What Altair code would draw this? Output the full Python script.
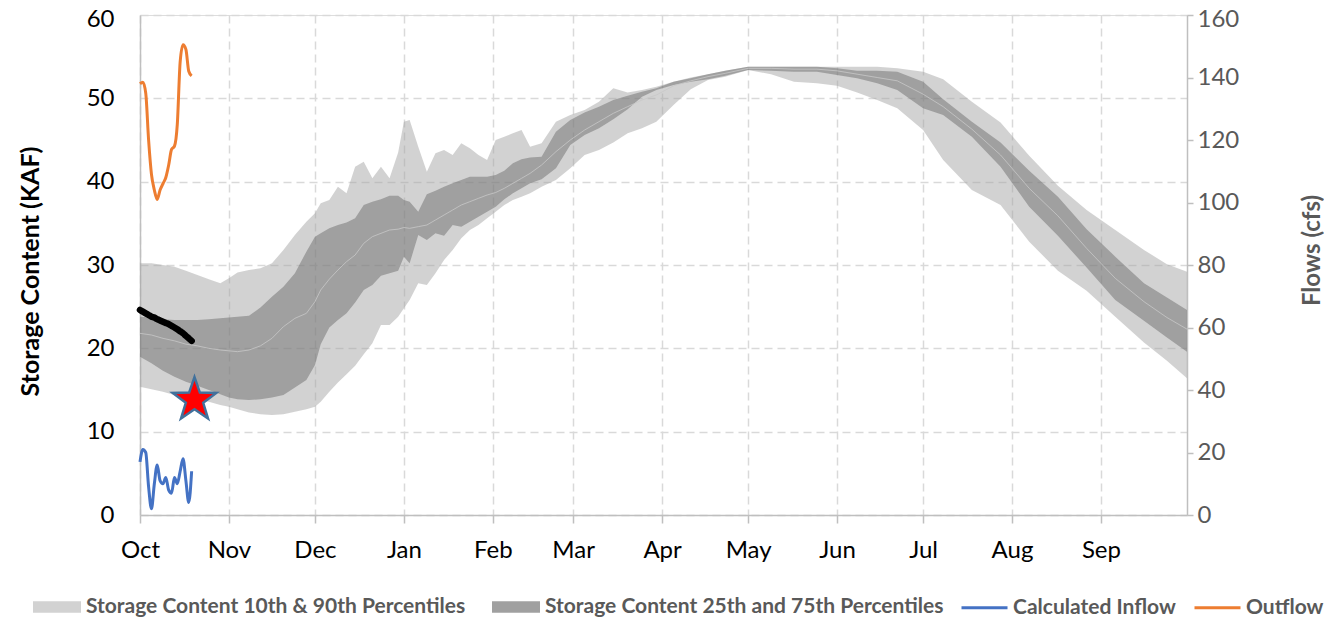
import altair as alt
import pandas as pd

# ---------------- data ----------------
days = [0, 4, 8, 12, 16, 20, 24, 28, 31, 34, 38, 42, 46, 50, 54, 58, 61, 63, 66, 69, 72, 75, 78, 81,
        84, 87, 90, 92, 94, 97, 100, 103, 106, 109, 112, 115, 118, 121, 124, 127, 130, 133, 136, 140,
        145, 150, 155, 160, 165, 170, 175, 180, 186, 192, 198, 204, 212, 220, 228, 236, 243, 250, 257,
        264, 273, 280, 290, 300, 310, 320, 330, 340, 350, 358, 365]

p90 = [30.2, 30.2, 30.0, 29.8, 29.3, 28.8, 28.3, 27.8,
       28.4, 29.1, 29.4, 29.6, 30.2, 31.8, 33.6, 35.2,
       36.2, 37.4, 37.8, 39.4, 38.6, 41.8, 42.4, 40.4,
       41.8, 40.4, 43.5, 47.2, 47.4, 44.2, 41.2, 43.4,
       43.8, 43.2, 44.6, 44.0, 43.2, 42.6, 45.0, 45.4,
       45.8, 46.2, 44.2, 44.6, 47.2, 48.0, 48.6, 49.6,
       51.2, 50.7, 51.0, 51.4, 52.0, 52.5, 52.9, 53.3,
       53.8, 53.8, 53.8, 53.8, 53.8, 53.8, 53.8, 53.6,
       53.2, 52.3, 49.6, 47.1, 43.1, 39.5, 36.6, 34.2,
       31.8, 30.1, 29.2]

p75 = [23.8, 23.7, 23.5, 23.4, 23.4, 23.4, 23.5, 23.6,
       23.7, 23.8, 23.9, 24.9, 26.2, 27.4, 29.0, 31.6,
       33.4, 33.8, 34.4, 34.8, 35.1, 35.6, 37.2, 37.6,
       37.9, 38.3, 38.3, 37.8, 37.6, 36.4, 38.5, 38.9,
       39.4, 39.8, 40.2, 40.6, 40.6, 40.6, 40.8, 41.3,
       42.2, 42.7, 42.9, 43.0, 46.0, 47.4, 48.3, 49.0,
       49.8, 50.3, 50.8, 51.2, 52.0, 52.4, 52.9, 53.3,
       53.8, 53.8, 53.8, 53.8, 53.6, 53.3, 53.3, 53.2,
       52.0, 49.9, 47.2, 44.7, 41.3, 38.2, 34.3, 31.0,
       27.8, 26.1, 24.6]

p50 = [21.8, 21.6, 21.2, 20.9, 20.5, 20.3, 20.0, 19.8,
       19.7, 19.6, 19.8, 20.3, 21.2, 22.6, 23.6, 24.2,
       25.6, 27.0, 28.3, 29.4, 30.4, 31.2, 32.6, 33.4,
       33.8, 34.2, 34.3, 34.5, 34.4, 34.6, 34.8, 35.4,
       36.0, 36.6, 37.2, 37.6, 38.0, 38.4, 38.7, 39.2,
       39.8, 40.4, 41.0, 42.0, 43.6, 45.0, 46.2, 47.2,
       48.2, 49.0, 49.8, 50.4, 51.5, 52.1, 52.6, 53.0,
       53.6, 53.6, 53.5, 53.5, 53.3, 52.9, 52.5, 52.1,
       50.5, 49.0, 46.3, 43.2, 39.2, 35.9, 32.0, 28.4,
       25.6, 23.7, 22.3]

p25 = [19.0, 18.2, 17.3, 16.6, 16.0, 15.5, 15.0, 14.5,
       14.1, 13.9, 13.8, 13.9, 14.1, 14.4, 15.3, 16.2,
       18.0, 20.5, 22.5, 23.4, 24.2, 25.5, 27.0, 27.6,
       28.7, 29.0, 29.3, 31.0, 30.2, 33.6, 33.0, 33.8,
       33.5, 34.8, 34.6, 35.2, 35.8, 36.4, 37.0, 37.9,
       38.6, 39.2, 39.8, 40.3, 41.6, 44.4, 45.6, 46.4,
       47.5, 48.7, 50.2, 51.0, 51.6, 52.0, 52.3, 52.7,
       53.4, 53.3, 53.2, 53.2, 52.8, 52.4, 51.8, 51.0,
       48.8, 48.0, 45.4, 41.8, 37.0, 33.5, 29.7, 25.8,
       23.3, 21.3, 19.6]

p10 = [15.4, 15.1, 14.8, 14.4, 14.1, 13.9, 13.6, 13.2,
       13.0, 12.7, 12.3, 12.1, 12.0, 12.1, 12.4, 12.7,
       13.0, 13.6, 14.8, 15.9, 16.9, 17.9, 19.3, 20.6,
       22.8, 22.8, 23.8, 24.8, 25.8, 27.8, 27.6, 29.0,
       30.6, 31.8, 33.2, 34.2, 34.8, 35.6, 36.4, 37.2,
       37.8, 38.2, 38.6, 39.4, 40.2, 41.6, 43.2, 43.8,
       44.7, 45.8, 46.4, 47.2, 49.2, 51.1, 52.2, 52.6,
       53.4, 52.9, 52.0, 51.8, 51.5, 50.7, 49.8, 48.8,
       46.2, 42.6, 39.0, 37.2, 32.8, 29.3, 26.9, 23.8,
       20.7, 18.5, 16.4]

cur_days = list(range(19))
cur_storage = [24.6, 24.4, 24.2, 24.0, 23.8, 23.7, 23.5, 23.35, 23.2, 23.05,
               22.9, 22.7, 22.5, 22.3, 22.05, 21.8, 21.5, 21.2, 20.9]

star_day = [19]
star_storage = [13.8]

flow_days = list(range(19))
inflow = [17, 21, 20, 9, 2, 10, 16, 11, 10, 12, 8, 7, 12, 10, 14, 18, 11, 4, 14]
outflow = [138, 138.5, 135, 120, 109, 104, 101, 104, 106, 108, 112, 117, 118, 125,
           145, 150.5, 149, 142, 140.5]

month_days = [0, 31, 61, 92, 123, 151, 182, 212, 243, 273, 304, 335]
month_names = ["Oct", "Nov", "Dec", "Jan", "Feb", "Mar", "Apr", "May", "Jun", "Jul", "Aug", "Sep"]

storage_ticks = [0, 10, 20, 30, 40, 50, 60]
flow_ticks = [0, 20, 40, 60, 80, 100, 120, 140, 160]

band_names = ["Storage Content 10th & 90th Percentiles",
              "Storage Content 25th and 75th Percentiles"]
band_colors = ["#d2d2d2", "#a0a0a0"]
flow_names = ["Calculated Inflow", "Outflow"]
flow_colors = ["#4472c4", "#ed7d31"]

# ---------------- styling ----------------
FONT = "Lato"
GRID = "#d9d9d9"
AXC = "#bfbfbf"
RECT = "M-1,-0.24L1,-0.24L1,0.24L-1,0.24Z"
STAR = ("M0,-1L0.235,-0.324L0.951,-0.309L0.380,0.124L0.588,0.809L0,0.4L-0.588,0.809"
        "L-0.380,0.124L-0.951,-0.309L-0.235,-0.324Z")

bands = pd.DataFrame({"day": days, "p10": p10, "p25": p25, "p50": p50, "p75": p75, "p90": p90})
cur = pd.DataFrame({"day": cur_days, "storage": cur_storage})
star_df = pd.DataFrame({"day": star_day, "storage": star_storage})
flows = pd.DataFrame({"day": flow_days, "inflow": inflow, "outflow": outflow})
band_leg_df = pd.DataFrame({"series": band_names, "day": [-10, -10]})
flow_leg_df = pd.DataFrame({"series": flow_names, "day": [-10, -10]})

label_expr = ("[" + ",".join("'%s'" % m for m in month_names) + "][indexof(["
              + ",".join(str(d) for d in month_days) + "], datum.value)]")

x_axis = alt.Axis(values=month_days, labelExpr=label_expr, title=None, grid=True,
                  gridDash=[8, 5], gridColor=GRID, gridWidth=1.5,
                  domainColor=AXC, domainWidth=1.5, tickColor=AXC, tickSize=8, tickWidth=1.5,
                  labelFont=FONT, labelFontSize=24, labelColor="black", labelPadding=15,
                  labelFlush=False, labelOverlap=False)
x_scale = alt.Scale(domain=[0, 365], nice=False, zero=False)


def X():
    return alt.X("day:Q", scale=x_scale, axis=x_axis)


yl_scale = alt.Scale(domain=[0, 60], nice=False, zero=False)
yl_axis = alt.Axis(values=storage_ticks, orient="left", title="Storage Content (KAF)",
                   titleFont=FONT, titleFontSize=25, titleFontWeight="bold", titleColor="black",
                   titleX=-110, titleY=256, titleAngle=270, titleAlign="center",
                   titleBaseline="middle",
                   grid=True, gridDash=[8, 5], gridColor=GRID, gridWidth=1.5,
                   domainColor=AXC, domainWidth=1.5, ticks=False,
                   labelFont=FONT, labelFontSize=24, labelColor="black", labelPadding=26,
                   labelOffset={"condition": {"test": "datum.value == 60", "value": 4},
                                "value": 0})

yr_scale = alt.Scale(domain=[0, 160], nice=False, zero=False)
yr_axis = alt.Axis(values=flow_ticks, orient="right", title="Flows (cfs)", titleFont=FONT,
                   titleFontSize=24, titleFontWeight="bold", titleColor="#595959",
                   titleX=125, titleY=235, titleAngle=270, titleAlign="center",
                   titleBaseline="middle", grid=False,
                   domainColor=AXC, domainWidth=1.5, tickColor=AXC, tickSize=6, tickWidth=1.5,
                   labelFont=FONT, labelFontSize=24, labelColor="#595959", labelPadding=4,
                   labelOffset={"condition": {"test": "datum.value == 160", "value": 4},
                                "value": 0})


def YL(field):
    return alt.Y(field, scale=yl_scale, axis=yl_axis)


def YR(field):
    return alt.Y(field, scale=yr_scale, axis=yr_axis)


base = alt.Chart(bands)
a90 = base.mark_area(color="#a6a6a6", opacity=0.5).encode(x=X(), y=YL("p10:Q"), y2="p90:Q")
a75 = base.mark_area(color="#6e6e6e", opacity=0.5).encode(x=X(), y=YL("p25:Q"), y2="p75:Q")
med = base.mark_line(color="#c8c8c8", strokeWidth=0.8).encode(x=X(), y=YL("p50:Q"))
cur_line = alt.Chart(cur).mark_line(color="black", strokeWidth=6.5, strokeCap="round",
                                    interpolate="monotone").encode(
    x=X(), y=YL("storage:Q"))
left = alt.layer(a90, a75, med, cur_line)

fbase = alt.Chart(flows)
inf_line = fbase.mark_line(color="#4472c4", strokeWidth=3, interpolate="monotone").encode(
    x=X(), y=YR("inflow:Q"))
out_line = fbase.mark_line(color="#ed7d31", strokeWidth=3, interpolate="monotone").encode(
    x=X(), y=YR("outflow:Q"))
right = alt.layer(inf_line, out_line)

star_pt = alt.Chart(star_df).mark_point(shape=STAR, filled=True, color="#ff0000",
                                        stroke="#41719c", strokeWidth=2.5, size=2100,
                                        opacity=1).encode(
    x=X(), y=alt.Y("storage:Q", scale=yl_scale, axis=None))

common_leg = dict(orient="none", direction="horizontal", title=None,
                  labelFont=FONT, labelFontSize=21, labelFontWeight="bold",
                  labelColor="#595959", labelLimit=1000, padding=0)

band_leg = alt.Chart(band_leg_df).mark_point(filled=True, opacity=1).encode(
    fill=alt.Fill("series:N", scale=alt.Scale(domain=band_names, range=band_colors),
                  legend=alt.Legend(legendX=-107, legendY=568, symbolType=RECT,
                                    symbolSize=2304, symbolStrokeWidth=0, labelOffset=5,
                                    columnPadding=26, **common_leg)),
).transform_filter("datum.day >= 0")

flow_leg = alt.Chart(flow_leg_df).mark_point(filled=False, opacity=1).encode(
    stroke=alt.Stroke("series:N", scale=alt.Scale(domain=flow_names, range=flow_colors),
                      legend=alt.Legend(legendX=820, legendY=568, symbolType="stroke",
                                        symbolSize=2116, symbolStrokeWidth=3, labelOffset=4,
                                        columnPadding=12, **common_leg)),
).transform_filter("datum.day >= 0")

chart = alt.layer(left, right, star_pt, band_leg, flow_leg).resolve_scale(
    y="independent").properties(
    width=1047, height=500,
    padding={"left": 132, "top": 7, "right": 137, "bottom": 105},
    autosize=alt.AutoSizeParams(type="none"),
).configure_view(stroke="transparent").configure(font=FONT)

chart.save("out.html", embed_options={"renderer": "svg", "actions": False})
